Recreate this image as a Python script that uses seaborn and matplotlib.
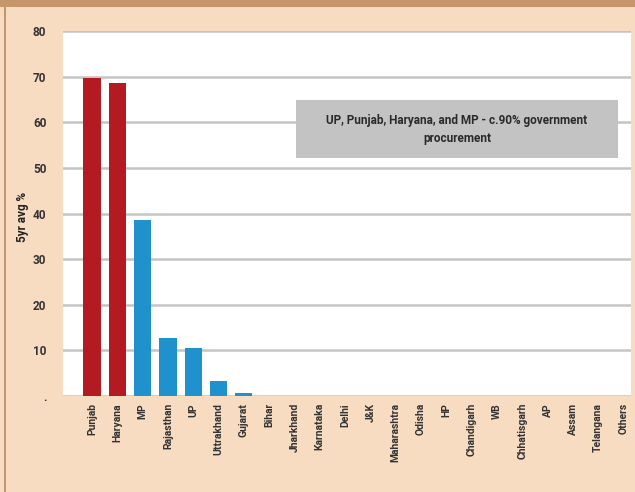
import matplotlib
matplotlib.use("Agg")
import matplotlib.pyplot as plt
import seaborn as sns
import pandas as pd
from matplotlib.patches import Rectangle

states = ["Punjab", "Haryana", "MP", "Rajasthan", "UP", "Uttrakhand", "Gujarat",
          "Bihar", "Jharkhand", "Karnataka", "Delhi", "J&K", "Maharashtra", "Odisha",
          "HP", "Chandigarh", "WB", "Chhatisgarh", "AP", "Assam", "Telangana", "Others"]
avg_share = [69.7, 68.5, 38.5, 12.8, 10.5, 3.3, 0.6,
             0.1, 0.0, 0.0, 0.0, 0.0, 0.0, 0.0,
             0.0, 0.0, 0.0, 0.0, 0.0, 0.0, 0.0, 0.0]
group = ["top", "top"] + ["other"] * 20
y_ticks = [0, 10, 20, 30, 40, 50, 60, 70, 80]
y_tick_labels = [".", "10", "20", "30", "40", "50", "60", "70", "80"]
note = "UP, Punjab, Haryana, and MP - c.90% government\nprocurement"

PEACH = "#f8dcc2"
BROWN = "#c4966a"
RED = "#b31a22"
BLUE = "#1f92cd"
TXT = "#333333"

df = pd.DataFrame({"state": states, "share": avg_share, "group": group})

sns.set_theme(style="white")
plt.rcParams["font.family"] = ["Liberation Sans Narrow", "Roboto", "DejaVu Sans"]

fig = plt.figure(figsize=(6.35, 4.92), dpi=100, facecolor=PEACH)
ax = fig.add_axes([0.0992, 0.195, 0.8945, 0.742])
ax.set_facecolor("white")

sns.barplot(data=df, x="state", y="share", hue="group",
            palette={"top": RED, "other": BLUE}, dodge=False, width=0.68,
            saturation=1, legend=False, ax=ax, zorder=3)
for p in ax.patches:
    p.set_edgecolor("none")

ax.set_ylim(0, 80)
ax.set_xlim(-1.15, 21.3)
ax.set_yticks(y_ticks)
ax.set_yticklabels(y_tick_labels, fontsize=8.5, fontweight="bold", color=TXT)
ax.yaxis.grid(True, color="#c4c4c4", linewidth=1.8, zorder=0)
ax.set_axisbelow(True)
ax.tick_params(axis="y", length=0, pad=12)
ax.tick_params(axis="x", length=0, pad=5)
ax.set_xticks(range(len(states)))
ax.set_xticklabels(states, rotation=90, fontsize=7.5, fontweight="bold", color=TXT)
for s in ax.spines.values():
    s.set_visible(False)
ax.set_xlabel("")
ax.set_ylabel("5yr avg %", fontsize=8.5, fontweight="bold", color="#222222")
ax.yaxis.set_label_coords(-0.060, 0.49)

# Note box
ax.add_patch(Rectangle((0.410, 0.652), 0.567, 0.159, transform=ax.transAxes,
                       facecolor="#c3c3c3", edgecolor="none", zorder=5))
ax.text(0.6935, 0.7315, note, transform=ax.transAxes, ha="center", va="center",
        fontsize=8.5, fontweight="bold", color="#2a2a2a", linespacing=1.5, zorder=6)

# Page frame: top band and left rule
fig.patches.append(Rectangle((0, 0.985), 1, 0.015, transform=fig.transFigure,
                             facecolor=BROWN, edgecolor="none", zorder=0))
fig.patches.append(Rectangle((0.006, 0), 0.003, 1, transform=fig.transFigure,
                             facecolor=BROWN, edgecolor="none", zorder=0))

fig.savefig("out.png", dpi=100, facecolor=PEACH)
